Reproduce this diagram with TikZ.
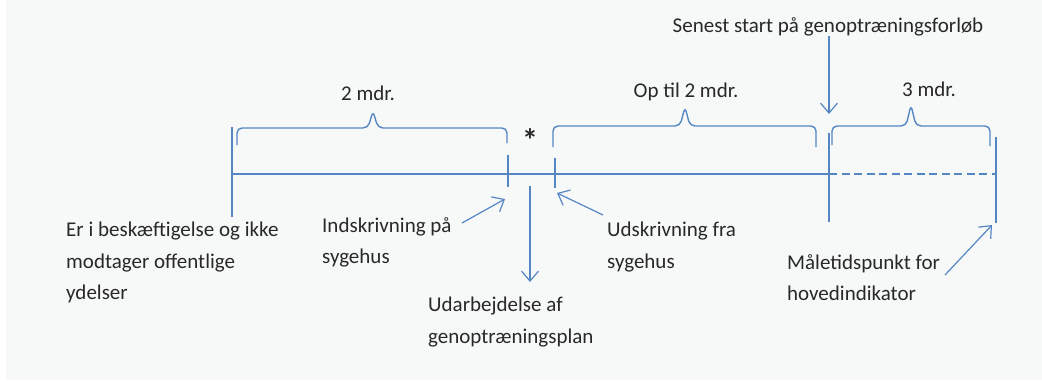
\documentclass[tikz,border=0pt]{standalone}
\usepackage{fontspec}
\setmainfont{Carlito}
\usetikzlibrary{arrows.meta,positioning,calc}
\definecolor{lineblue}{RGB}{84,134,196}
\definecolor{panelgray}{RGB}{247,249,249}
\definecolor{textgray}{RGB}{40,40,40}

\begin{document}
\begin{tikzpicture}[x=1pt, y=-1pt,
        every node/.style={font=\fontsize{21}{31.5}\selectfont, text=textgray, inner sep=0pt},
        lbl/.style={align=left, anchor=north west},
        span/.style={anchor=base},
        axis/.style={draw=lineblue, line width=1.6pt},
        brace/.style={draw=lineblue, line width=1.4pt, rounded corners=5pt},
        pointer/.style={draw=lineblue, line width=1.2pt, -{Straight Barb[length=10pt, width=17pt]}}]
        \useasboundingbox (0,0) rectangle (1042,383);
        \fill[white] (0,0) rectangle (1042,383);
        \fill[panelgray] (6,0) rectangle (1042,380);

        % timeline
        \coordinate (t0) at (232,174);
        \coordinate (t1) at (508,174);
        \coordinate (t2) at (555,174);
        \coordinate (t3) at (829,174);
        \coordinate (t4) at (996,174);
        \draw[axis] (t0) -- (t3);
        \draw[axis, dash pattern=on 8pt off 4.5pt] (t3) -- (t4);
        \draw[axis] ($(t0)+(0,-47)$) -- ($(t0)+(0,43)$);
        \draw[axis] ($(t1)+(0,-19)$) -- ($(t1)+(0,13)$);
        \draw[axis] ($(t2)+(0,-16)$) -- ($(t2)+(0,14)$);
        \draw[axis] ($(t3)+(0,-41)$) -- ($(t3)+(0,48)$);
        \draw[axis] ($(t4)+(0,-37)$) -- ($(t4)+(0,49)$);

        % braces
        \draw[brace] (237,145) -- (237,128) -- (368,128) -- (373,111) -- (378,128) -- (507,128) -- (507,143);
        \draw[brace] (553,147) -- (553,126) -- (680,126) -- (685,107) -- (690,126) -- (816,126) -- (816,147);
        \draw[brace] (832,145) -- (832,126) -- (906,126) -- (911,105) -- (916,126) -- (990,126) -- (990,146);

        \node[span] (twomdr) at (368,100) {2 mdr.};
        \node[span] (optil) at (686,97) {Op til 2 mdr.};
        \node[span] (threemdr) at (929,96) {3 mdr.};
        \node[font=\fontsize{32}{32}\selectfont\bfseries] (star) at (530,140) {*};

        % labels
        \node[span] (senest) at (828,32) {Senest start på genoptræningsforløb};
        \node[lbl] (work) at (66,222) {Er i beskæftigelse og ikke\\modtager offentlige\\ydelser};
        \node[lbl] (indskr) at (322,217) {Indskrivning på\\sygehus};
        \node[lbl] (udarb) at (428,297) {Udarbejdelse af\\genoptræningsplan};
        \node[lbl] (udskr) at (607,222) {Udskrivning fra\\sygehus};
        \node[lbl] (maale) at (787,254) {Måletidspunkt for\\hovedindikator};

        % pointers
        \coordinate (senestTip) at (829,114);
        \coordinate (indskrTail) at (462,223);
        \coordinate (indskrTip) at (505,199);
        \coordinate (udarbTail) at (530,186);
        \coordinate (udarbTip) at (530,282);
        \coordinate (udskrTail) at (603,215);
        \coordinate (udskrTip) at (557,193);
        \coordinate (maaleTail) at (945,275);
        \coordinate (maaleTip) at (992,225);
        \draw[pointer] (senest.south -| senestTip) -- (senestTip);
        \draw[pointer] (indskrTail) -- (indskrTip);
        \draw[pointer] (udarbTail) -- (udarbTip);
        \draw[pointer] (udskrTail) -- (udskrTip);
        \draw[pointer] (maaleTail) -- (maaleTip);
\end{tikzpicture}
\end{document}
